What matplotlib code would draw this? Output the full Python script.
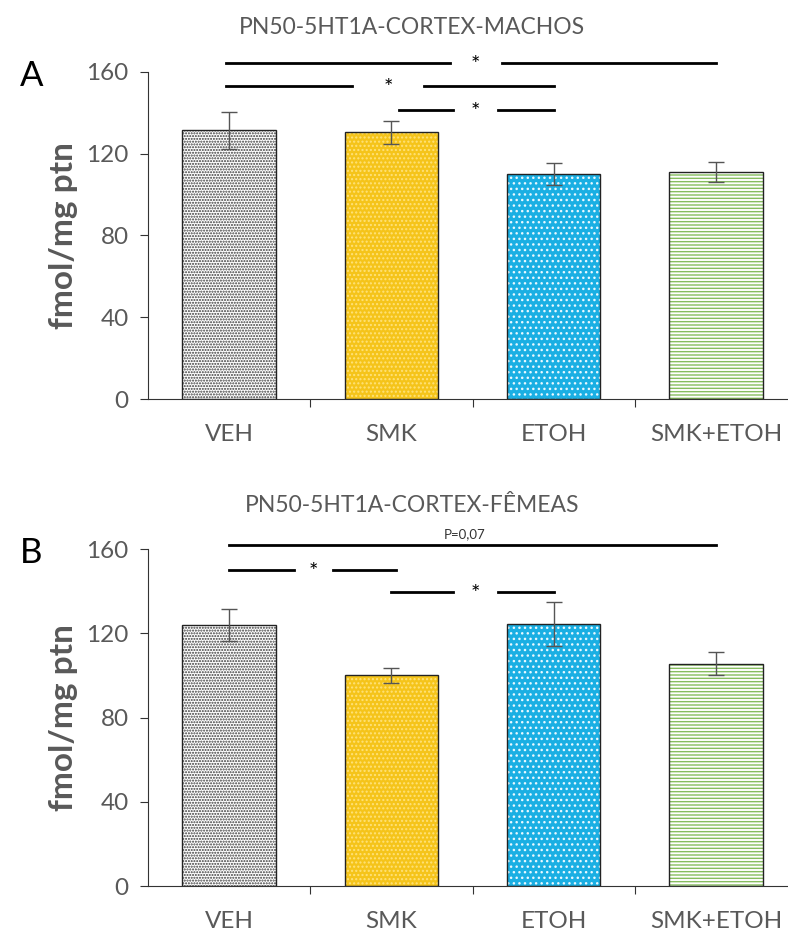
import matplotlib.pyplot as plt
import numpy as np

plt.rcParams['font.family'] = ['Lato', 'DejaVu Sans']

groups = ["VEH", "SMK", "ETOH", "SMK+ETOH"]

machos_mean = [131.5, 130.5, 110, 111]
machos_err = [9, 5.5, 5.5, 5]

femeas_mean = [123.8, 100, 124.5, 105.5]
femeas_err = [7.5, 3.5, 10.5, 5.5]

# (x0, x1, y, star x, gap half width, label)
machos_sig = [(-0.02, 3.0, 164.5, 1.52, 0.16, "*"),
              (-0.02, 2.0, 153, 0.98, 0.22, "*"),
              (1.05, 2.0, 141.4, 1.52, 0.14, "*")]
femeas_sig = [(0.0, 3.0, 162, None, 0, "P=0,07"),
              (0.0, 1.03, 150, 0.52, 0.12, "*"),
              (1.0, 2.0, 139.7, 1.52, 0.14, "*")]

face = ["white", "#F5C41A", "#1AAFE3", "white"]
hatch_col = ["#3a3a3a", "#FFE27A", "#E8F8FF", "#86BD5E"]
hatches = ["......", "....", "...", "-----"]

gray = "#595959"
plt.rcParams['hatch.linewidth'] = 1.0

fig = plt.figure(figsize=(7.88, 9.38), dpi=100)


def panel(rect, means, errs, sigs, title, letter, ty):
    ax = fig.add_axes(rect)
    x = np.arange(len(groups))
    for i in range(len(groups)):
        ax.bar(x[i], means[i], width=0.575, color=face[i], hatch=hatches[i],
               edgecolor=hatch_col[i], linewidth=0, zorder=2)
        ax.bar(x[i], means[i], width=0.575, fill=False, edgecolor="#222222",
               linewidth=1.0, zorder=3)
    ax.errorbar(x, means, yerr=errs, fmt="none", ecolor="#555555",
                elinewidth=1, capsize=6, capthick=1, zorder=4)
    ax.set_xlim(-0.5, 3.5)
    ax.set_ylim(0, 160)
    ax.set_yticks([0, 40, 80, 120, 160])
    ax.set_xticks([0.5, 1.5, 2.5], minor=False)
    ax.set_xticklabels([])
    ax.set_xticks(x, minor=True)
    ax.set_xticklabels(groups, minor=True)
    ax.tick_params(axis="x", which="minor", length=0, pad=18,
                   labelsize=17.5, labelcolor=gray)
    ax.tick_params(axis="x", which="major", length=6, direction="out",
                   color="#333333")
    ax.tick_params(axis="y", length=6, labelsize=17.5, labelcolor=gray,
                   color="#333333", pad=8)
    for s in ["top", "right"]:
        ax.spines[s].set_visible(False)
    ax.spines["left"].set_color("#333333")
    ax.spines["bottom"].set_color("#333333")
    ax.set_ylabel("fmol/mg ptn", fontsize=24, fontweight="bold", color=gray)
    ax.yaxis.set_label_coords(-0.108, 0.5)

    for x0, x1, y, sx, g, lab in sigs:
        if sx is None:
            ax.plot([x0, x1], [y, y], color="black", lw=2, clip_on=False)
            ax.text((x0 + x1) / 2 - 0.05, y + 2, lab, ha="center",
                    va="bottom", fontsize=9.5, color="#333333")
        else:
            ax.plot([x0, sx - g], [y, y], color="black", lw=2, clip_on=False)
            ax.plot([sx + g, x1], [y, y], color="black", lw=2, clip_on=False)
            ax.text(sx, y - 1, lab, ha="center", va="center", fontsize=16,
                    color="black")

    fig.text(412 / 788, ty, title, ha="center", va="center", fontsize=16.5,
             color=gray)
    fig.text(0.040, rect[1] + rect[3] - 0.004, letter, ha="center",
             va="center", fontsize=25, color="black")
    return ax


panel([148 / 788, 539 / 938, 649 / 788, 327 / 938], machos_mean, machos_err,
      machos_sig, "PN50-5HT1A-CORTEX-MACHOS", "A", 1 - 28 / 938)
panel([148 / 788, 52 / 938, 649 / 788, 337 / 938], femeas_mean, femeas_err,
      femeas_sig, "PN50-5HT1A-CORTEX-FÊMEAS", "B", 1 - 505 / 938)

fig.savefig("out.png", dpi=100)
